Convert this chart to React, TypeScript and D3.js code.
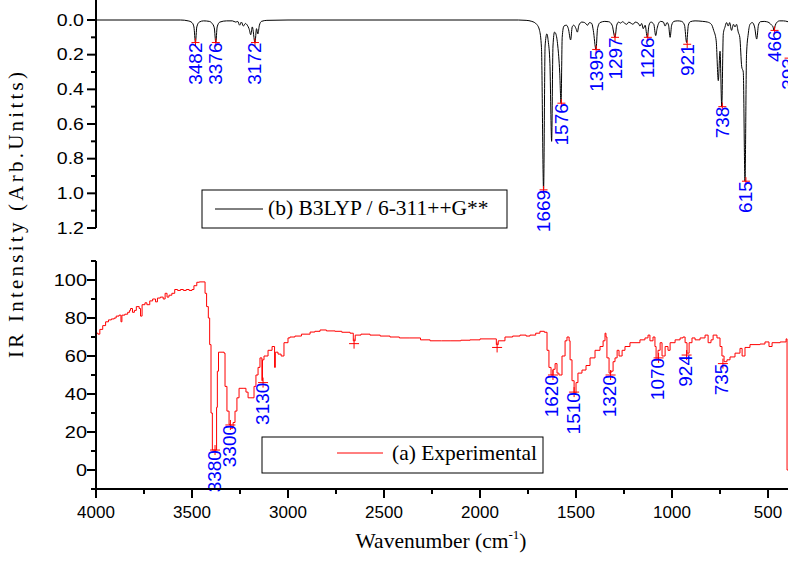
import React from 'react';
import * as d3 from 'd3';

const W = 788;
const H = 564;

// (b) B3LYP / 6-311++G** calculated spectrum
const calcWavenumber = [
  4000, 3560, 3520, 3500, 3490, 3482, 3475, 3462, 3440, 3410, 3395, 3384, 3376, 3369, 3355, 3320, 3290, 3272, 3262, 3252,
  3243, 3232, 3222, 3212, 3203, 3194, 3186, 3172, 3164, 3157, 3149, 3138, 3110, 3000, 1800, 1760, 1730, 1705, 1690, 1680,
  1669, 1661, 1652, 1645, 1636, 1627, 1620, 1612, 1605, 1595, 1585, 1578, 1572, 1563, 1550, 1540, 1528, 1520, 1512, 1500,
  1493, 1485, 1470, 1455, 1440, 1430, 1418, 1410, 1396, 1388, 1375, 1350, 1330, 1312, 1297, 1288, 1278, 1268, 1258, 1245,
  1236, 1225, 1212, 1203, 1192, 1175, 1167, 1158, 1150, 1140, 1129, 1120, 1110, 1095, 1085, 1078, 1070, 1060, 1045, 1036,
  1026, 1018, 1010, 1002, 990, 970, 950, 935, 924, 915, 905, 880, 840, 815, 795, 783, 770, 759, 750, 741,
  733, 724, 716, 707, 700, 690, 680, 672, 664, 655, 647, 637, 629, 620, 612, 603, 594, 582, 570, 559,
  550, 540, 520, 507, 495, 481, 474, 469, 462, 455, 440, 420, 396,
];
const calcIntensity = [
  0, 0, 0.005, 0.015, 0.04, 0.13, 0.04, 0.012, 0.005, 0.008, 0.02, 0.045, 0.13, 0.04, 0.012, 0.005, 0.005, 0.012, 0.008, 0.03,
  0.012, 0.035, 0.02, 0.03, 0.05, 0.085, 0.04, 0.13, 0.05, 0.08, 0.03, 0.008, 0.002, 0, 0, 0.002, 0.008, 0.025, 0.06, 0.16,
  0.98, 0.15, 0.08, 0.12, 0.25, 0.7, 0.15, 0.07, 0.08, 0.15, 0.3, 0.48, 0.1, 0.035, 0.03, 0.05, 0.115, 0.04, 0.03, 0.05,
  0.07, 0.03, 0.012, 0.015, 0.03, 0.015, 0.02, 0.06, 0.17, 0.05, 0.015, 0.008, 0.01, 0.03, 0.1, 0.03, 0.012, 0.018, 0.01, 0.02,
  0.025, 0.012, 0.02, 0.025, 0.012, 0.02, 0.035, 0.02, 0.05, 0.03, 0.1, 0.03, 0.012, 0.025, 0.09, 0.05, 0.02, 0.008, 0.012, 0.035,
  0.015, 0.03, 0.1, 0.03, 0.008, 0.005, 0.008, 0.03, 0.13, 0.03, 0.01, 0.005, 0.008, 0.012, 0.025, 0.06, 0.12, 0.35, 0.18, 0.5,
  0.08, 0.04, 0.015, 0.035, 0.015, 0.06, 0.025, 0.04, 0.025, 0.07, 0.1, 0.27, 0.3, 0.93, 0.2, 0.08, 0.025, 0.015, 0.04, 0.11,
  0.03, 0.01, 0.008, 0.01, 0.015, 0.03, 0.04, 0.06, 0.03, 0.015, 0.005, 0.005, 0.01,
];
const calcPeakLabels = ['3482', '3376', '3172', '1669', '1576', '1395', '1297', '1126', '921', '738', '615', '466', '393'];
const calcPeakWavenumber = [3482, 3376, 3172, 1669, 1576, 1395, 1297, 1126, 921, 738, 615, 466, 393];
const calcPeakIntensity = [0.13, 0.13, 0.13, 0.98, 0.48, 0.17, 0.1, 0.1, 0.14, 0.5, 0.93, 0.06, 0.22];

// (a) Experimental spectrum
const expWavenumber = [
  4000, 3990, 3980, 3965, 3950, 3935, 3920, 3905, 3895, 3880, 3870, 3865, 3850, 3835, 3825, 3820, 3810, 3800, 3790, 3775,
  3768, 3760, 3745, 3735, 3720, 3705, 3690, 3680, 3665, 3650, 3640, 3630, 3620, 3605, 3590, 3575, 3560, 3545, 3530, 3515,
  3500, 3490, 3475, 3462, 3432, 3424, 3415, 3408, 3401, 3394, 3372, 3368, 3362, 3354, 3333, 3328, 3318, 3307, 3297, 3286,
  3276, 3266, 3255, 3234, 3219, 3208, 3193, 3177, 3167, 3156, 3146, 3136, 3133, 3125, 3104, 3083, 3070, 3066, 3052, 3036,
  3021, 3000, 2990, 2964, 2930, 2885, 2860, 2833, 2800, 2755, 2720, 2677, 2660, 2650, 2620, 2573, 2520, 2469, 2420, 2365,
  2310, 2260, 2200, 2156, 2100, 2052, 2000, 1948, 1915, 1905, 1870, 1830, 1792, 1760, 1740, 1710, 1688, 1665, 1651, 1641,
  1630, 1620, 1609, 1599, 1589, 1573, 1557, 1547, 1536, 1531, 1521, 1510, 1500, 1490, 1469, 1448, 1427, 1401, 1375, 1359,
  1349, 1344, 1339, 1328, 1318, 1307, 1297, 1286, 1276, 1260, 1245, 1219, 1167, 1141, 1125, 1115, 1099, 1089, 1083, 1073,
  1062, 1052, 1036, 1021, 1010, 984, 958, 943, 932, 922, 911, 896, 880, 854, 828, 812, 797, 786, 766, 750,
  740, 729, 714, 698, 672, 646, 635, 620, 594, 542, 516, 495, 479, 437, 406, 401, 396,
];
const expIntensity = [
  72, 71.5, 74, 76, 78, 79, 79.5, 80, 81, 81.5, 78, 81.5, 82, 83, 84, 85, 83, 84, 86, 85,
  81, 87, 88, 87, 89, 90, 88.5, 90.5, 91, 90, 93, 91, 92, 93, 95, 94.5, 95, 94.5, 95, 94.5,
  95, 97, 98.8, 99, 93, 86, 80, 66, 30, 10.5, 33, 52, 62, 62, 61.5, 44, 31, 24, 22, 25,
  31, 38, 43, 43, 41, 38, 38, 44, 50, 54, 59, 47, 58, 60, 63, 65, 54, 62, 61, 60,
  67, 69.5, 70, 70.5, 71.5, 72.6, 73, 73.7, 73.2, 73, 72.5, 72, 68, 71, 71.5, 71, 70.5, 70, 69.5, 69.5,
  68.5, 68, 68, 68, 68.3, 68.5, 69, 69, 66, 68, 70, 70.5, 71, 70.5, 71, 72, 73, 72.5, 63, 54,
  50, 53, 56, 51, 50, 60, 68, 70, 68, 58, 47, 40.5, 46, 51, 52.6, 55, 59, 63, 65, 68,
  72, 70, 59, 51, 52, 57, 59, 63, 60, 63, 65, 67, 68.5, 69.5, 71, 68, 70, 65, 58, 63,
  67, 60, 65, 63, 67, 68.5, 69.5, 70, 67, 61.5, 67, 69.5, 68.5, 69.5, 71, 67, 68.5, 71, 69.5, 65,
  60, 57, 58, 59.5, 61.5, 64, 60, 64.5, 66, 66.3, 67.4, 65, 67, 67.4, 69, 0, 0,
];
const expPeakLabels = ['3380', '3300', '3130', '1620', '1510', '1320', '1070', '924', '735'];
const expPeakWavenumber = [3380, 3300, 3130, 1620, 1510, 1320, 1070, 924, 735];
const expPeakIntensity = [10.5, 23.7, 46, 50, 41, 50, 59, 60.5, 56];
const expMarkWavenumber = [2656, 1911];
const expMarkIntensity = [66.5, 64.5];

const xTickValues = [4000, 3500, 3000, 2500, 2000, 1500, 1000, 500];
const xMinorValues = [3750, 3250, 2750, 2250, 1750, 1250, 750];
const calcYTickValues = [0, 0.2, 0.4, 0.6, 0.8, 1.0, 1.2];
const calcYMinorValues = [0.1, 0.3, 0.5, 0.7, 0.9, 1.1];
const expYTickValues = [0, 20, 40, 60, 80, 100];
const expYMinorValues = [-10, 10, 30, 50, 70, 90, 110];

const SANS = "'Liberation Sans', Arial, sans-serif";
const SERIF = "'Liberation Serif', 'Times New Roman', serif";

function textWidth(s: string, size: number) {
  let w = 0;
  for (const c of s) w += c === '.' ? 0.278 : 0.556;
  return w * size;
}

export default function App() {
  const x = d3.scaleLinear().domain([4000, 396]).range([96, 788]);
  const yTop = d3.scaleLinear().domain([0, 1.2]).range([20, 228]);
  const yBot = d3.scaleLinear().domain([-10, 110]).range([489, 261]);

  const calcData = calcWavenumber.map((w, i) => [w, calcIntensity[i]] as [number, number]);
  const expData = expWavenumber.map((w, i) => [w, expIntensity[i]] as [number, number]);

  const calcLine = d3
    .line<[number, number]>()
    .x((d) => x(d[0]))
    .y((d) => yTop(d[1]))
    .curve(d3.curveMonotoneX);
  const expLine = d3
    .line<[number, number]>()
    .x((d) => x(d[0]))
    .y((d) => yBot(d[1]))
    .curve(d3.curveStepAfter);

  const axisX = 96;
  const plus = (cx: number, cy: number, k: string, s = 5) => (
    <g key={k} stroke="#ff0000" strokeWidth={1}>
      <line x1={cx - s} x2={cx + s} y1={cy} y2={cy} />
      <line x1={cx} x2={cx} y1={cy - s} y2={cy + s} />
    </g>
  );

  return (
    <svg
      width={W}
      height={H}
      style={{ position: 'absolute', left: 0, top: 0, background: '#fff' }}
      xmlns="http://www.w3.org/2000/svg"
    >
      <rect x={0} y={0} width={W} height={H} fill="#fff" />

      {/* Top panel: calculated */}
      <path d={calcLine(calcData) || ''} fill="none" stroke="#000" strokeWidth={1} />
      {calcPeakWavenumber.map((w, i) => plus(x(w), yTop(calcPeakIntensity[i]), 'cm' + i, 4))}
      {calcPeakWavenumber.map((w, i) => (
        <text
          key={'cl' + i}
          transform={`translate(${x(w)},${yTop(calcPeakIntensity[i])}) rotate(-90)`}
          textAnchor="end"
          dominantBaseline="central"
          fill="#0000ff"
          fontFamily={SANS}
          fontSize={19}
        >
          {calcPeakLabels[i]}
        </text>
      ))}
      <line x1={axisX} x2={axisX} y1={0} y2={228} stroke="#000" strokeWidth={2} />
      {calcYTickValues.map((v, i) => (
        <g key={'ct' + i}>
          <line x1={axisX - 9} x2={axisX} y1={yTop(v)} y2={yTop(v)} stroke="#000" strokeWidth={2} />
          <text
            x={84}
            y={yTop(v)}
            textAnchor="end"
            dominantBaseline="central"
            fontFamily={SANS}
            fontSize={17}
            textLength={textWidth(v.toFixed(1), 17) * 1.15}
            lengthAdjust="spacingAndGlyphs"
          >
            {v.toFixed(1)}
          </text>
        </g>
      ))}
      {calcYMinorValues.map((v, i) => (
        <line key={'cm' + i} x1={axisX - 5} x2={axisX} y1={yTop(v)} y2={yTop(v)} stroke="#000" strokeWidth={2} />
      ))}
      <rect x={202} y={190} width={305} height={38} fill="#fff" stroke="#000" strokeWidth={1} />
      <line x1={215} x2={263} y1={209} y2={209} stroke="#000" strokeWidth={1} />
      <text x={268} y={215} fontFamily={SERIF} fontSize={21.5} fontWeight="normal">
        (b) B3LYP / 6-311++G**
      </text>

      {/* Bottom panel: experimental */}
      <path d={expLine(expData) || ''} fill="none" stroke="#ff0000" strokeWidth={1} />
      {expPeakWavenumber.map((w, i) => plus(x(w), yBot(expPeakIntensity[i]), 'em' + i))}
      {expMarkWavenumber.map((w, i) => plus(x(w), yBot(expMarkIntensity[i]), 'ex' + i))}
      {expPeakWavenumber.map((w, i) => (
        <text
          key={'el' + i}
          transform={`translate(${x(w) - 1},${yBot(expPeakIntensity[i])}) rotate(-90)`}
          textAnchor="end"
          dominantBaseline="central"
          fill="#0000ff"
          fontFamily={SANS}
          fontSize={19}
        >
          {expPeakLabels[i]}
        </text>
      ))}
      <line x1={axisX} x2={axisX} y1={261} y2={489} stroke="#000" strokeWidth={2} />
      {expYTickValues.map((v, i) => (
        <g key={'et' + i}>
          <line x1={axisX - 9} x2={axisX} y1={yBot(v)} y2={yBot(v)} stroke="#000" strokeWidth={2} />
          <text
            x={87}
            y={yBot(v)}
            textAnchor="end"
            dominantBaseline="central"
            fontFamily={SANS}
            fontSize={17}
            textLength={textWidth(String(v), 17) * 1.17}
            lengthAdjust="spacingAndGlyphs"
          >
            {v}
          </text>
        </g>
      ))}
      {expYMinorValues.map((v, i) => (
        <line key={'em2' + i} x1={axisX - 5} x2={axisX} y1={yBot(v)} y2={yBot(v)} stroke="#000" strokeWidth={2} />
      ))}
      <rect x={262} y={437} width={281} height={36} fill="#fff" stroke="#000" strokeWidth={1} />
      <line x1={337} x2={383} y1={453} y2={453} stroke="#ff0000" strokeWidth={1} />
      <text x={392} y={460} fontFamily={SERIF} fontSize={21.5} fontWeight="normal">
        (a) Experimental
      </text>

      {/* X axis */}
      <line x1={axisX - 1} x2={W} y1={489} y2={489} stroke="#000" strokeWidth={2} />
      {xTickValues.map((v, i) => (
        <g key={'xt' + i}>
          <line x1={x(v)} x2={x(v)} y1={489} y2={498} stroke="#000" strokeWidth={2} />
          <text x={x(v)} y={518} textAnchor="middle" fontFamily={SANS} fontSize={17}>
            {v}
          </text>
        </g>
      ))}
      {xMinorValues.map((v, i) => (
        <line key={'xm' + i} x1={x(v)} x2={x(v)} y1={489} y2={494} stroke="#000" strokeWidth={2} />
      ))}

      <text x={441} y={548} textAnchor="middle" fontFamily={SERIF} fontSize={21.5} fontWeight="normal">
        Wavenumber (cm
        <tspan fontSize={13} dy={-9}>
          -1
        </tspan>
        <tspan dy={9}>)</tspan>
      </text>
      <text
        transform="translate(23,215) rotate(-90)"
        textAnchor="middle"
        fontFamily={SERIF}
        fontSize={21}
        fontWeight="normal"
        textLength={286}
        lengthAdjust="spacing"
      >
        IR Intensity (Arb.Unitts)
      </text>
    </svg>
  );
}
